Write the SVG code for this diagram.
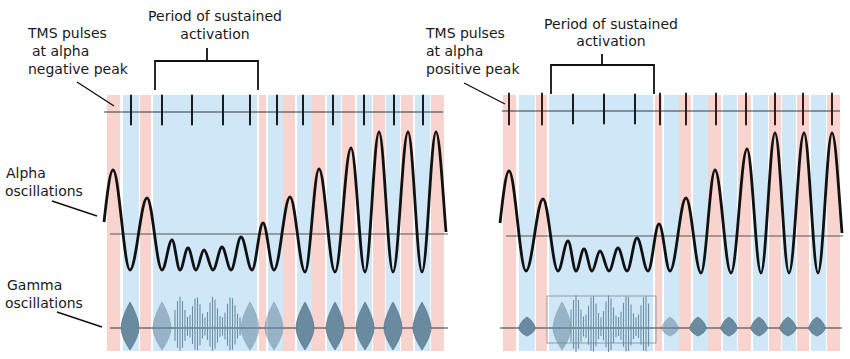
<svg xmlns="http://www.w3.org/2000/svg" xmlns:xlink="http://www.w3.org/1999/xlink" width="850" height="359" viewBox="0 0 850 359">
<style>
.lbl{font-family:"DejaVu Sans","Liberation Sans",sans-serif;font-size:14px;fill:#1a1a1a}
.pk{fill:#f9d4cf}
.bl{fill:#cfe7f7}
.axis{stroke:#2a3a44;stroke-width:1.1;fill:none}
.base{stroke:#555;stroke-width:1;fill:none}
.lead{stroke:#111;stroke-width:1.4;fill:none}
.br{stroke:#111;stroke-width:1.8;fill:none}
.wave{stroke:#111;stroke-width:2.8;fill:none;stroke-linejoin:round}
.glines{stroke:#6d8ea2;stroke-width:1.1;fill:none}
.burst{fill:#6a8aa0;stroke:#4d6b80;stroke-width:.6}
.light{opacity:.55}
.box{fill:none;stroke:#7a8a94;stroke-width:.8}
</style>
<defs>
<path id="tick" d="M0,-14.5V14.5" stroke="#111" stroke-width="1.9" stroke-linecap="round"/>
<path id="tickR" d="M0,-15.5V15.5" stroke="#2a1010" stroke-width="1.9" stroke-linecap="round"/>
<path id="sp" d="M-9,0 C-9,-8 -4,-19 0,-26 C4,-19 9,-8 9,0 C9,7 4,16 0,22 C-4,16 -9,7 -9,0Z"/>
<path id="spS" d="M-8.5,0 C-7.5,-3 -5,-8 0,-11 C5,-8 7.5,-3 8.5,0 C7.5,3 5,6 0,8 C-5,6 -7.5,3 -8.5,0Z"/>
<path id="alpha" d="M104,222 C107,195 110,170 113,170 C119.1,170 123.9,270 130,270 C136.1,270 140.9,198 147,198 C152.4,198 156.6,270 162,270 C165.6,270 168.4,240 172,240 C174.9,240 177.1,270 180,270 C182.9,270 185.1,248 188,248 C190.9,248 193.1,270 196,270 C198.9,270 201.1,250 204,250 C207.2,250 209.8,270 213,270 C216.2,270 218.8,247 222,247 C225.2,247 227.8,270 231,270 C234.6,270 237.4,237 241,237 C245,237 248,270 252,270 C256,270 259,223 263,223 C267,223 270,270 274,270 C279.8,270 284.2,197 290,197 C295.4,197 299.6,272 305,272 C310,272 314,169 319,169 C324.8,169 329.2,272 335,272 C340.8,272 345.2,148 351,148 C356,148 360,272 365,272 C370,272 374,132 379,132 C384,132 388,272 393,272 C398.4,272 402.6,132 408,132 C413,132 417,272 422,272 C427,272 431,132 436,132 C439.6,132 443,195 446,232"/>
</defs>

<g id="left-panel">
  <g id="left-stripes">
    <rect class="pk" x="107" y="95" width="13" height="256"/>
    <rect class="bl" x="123" y="95" width="16" height="256"/>
    <rect class="pk" x="140" y="95" width="11" height="256"/>
    <rect class="bl" x="153" y="95" width="104" height="256"/>
    <rect class="pk" x="259" y="95" width="7" height="256"/>
    <rect class="bl" x="268" y="95" width="15" height="256"/>
    <rect class="pk" x="283" y="95" width="12" height="256"/>
    <rect class="bl" x="297" y="95" width="15" height="256"/>
    <rect class="pk" x="312" y="95" width="13" height="256"/>
    <rect class="bl" x="327" y="95" width="14" height="256"/>
    <rect class="pk" x="342" y="95" width="13" height="256"/>
    <rect class="bl" x="357" y="95" width="15" height="256"/>
    <rect class="pk" x="373" y="95" width="12" height="256"/>
    <rect class="bl" x="386" y="95" width="14" height="256"/>
    <rect class="pk" x="401" y="95" width="12" height="256"/>
    <rect class="bl" x="415" y="95" width="15" height="256"/>
    <rect class="pk" x="431" y="95" width="13" height="256"/>
  </g>
  <g id="left-tms">
    <line class="axis" x1="104" y1="112" x2="443" y2="112"/>
    <use xlink:href="#tick" x="131" y="110"/>
    <use xlink:href="#tick" x="162" y="110"/>
    <use xlink:href="#tick" x="192" y="110"/>
    <use xlink:href="#tick" x="223" y="110"/>
    <use xlink:href="#tick" x="250" y="110"/>
    <use xlink:href="#tick" x="277" y="110"/>
    <use xlink:href="#tick" x="303" y="110"/>
    <use xlink:href="#tick" x="333" y="110"/>
    <use xlink:href="#tick" x="364" y="110"/>
    <use xlink:href="#tick" x="394" y="110"/>
    <use xlink:href="#tick" x="423" y="110"/>
  </g>
  <g id="left-alpha">
    <line class="base" x1="110" y1="234" x2="448" y2="234"/>
    <use xlink:href="#alpha" class="wave"/>
  </g>
  <g id="left-gamma">
    <line class="axis" x1="110" y1="328" x2="448" y2="328"/>
    <g class="burst">
      <use xlink:href="#sp" x="130" y="328"/>
      <use xlink:href="#sp" x="305" y="328"/>
      <use xlink:href="#sp" x="335" y="328"/>
      <use xlink:href="#sp" x="365" y="328"/>
      <use xlink:href="#sp" x="393" y="328"/>
      <use xlink:href="#sp" x="422" y="328"/>
    </g>
    <g class="burst light">
      <use xlink:href="#sp" x="162" y="328"/>
      <use xlink:href="#sp" x="250" y="328"/>
      <use xlink:href="#sp" x="274" y="328"/>
    </g>
    <path class="glines" d="M175,310.1V341.1M177.5,301V347.8M180,296.8V350.8M182.5,301V347.8M185,310.1V341.1M187.5,317V336.1M190,314.9V337.6M192.5,306.3V343.9M195,298.4V349.7M197.5,297.5V350.3M200,304.3V345.3M202.5,313.4V338.6M205,317.6V335.6M207.5,311.9V339.8M210,302.5V346.6M212.5,296.8V350.8M215,299.5V348.8M217.5,308.2V342.4M220,316V336.7M222.5,317.5V335.7M225,312.4V339.4M227.5,303.7V345.8M230,297.5V350.3M232.5,298.2V349.8M235,305.4V344.5M237.5,313.8V338.4M240,317.6V335.6"/>
  </g>
</g>

<g id="right-panel">
  <g id="right-stripes">
    <rect class="pk" x="503" y="95" width="13" height="256"/>
    <rect class="bl" x="519" y="95" width="16" height="256"/>
    <rect class="pk" x="536" y="95" width="11" height="256"/>
    <rect class="bl" x="549" y="95" width="104" height="256"/>
    <rect class="pk" x="655" y="95" width="7" height="256"/>
    <rect class="bl" x="664" y="95" width="15" height="256"/>
    <rect class="pk" x="679" y="95" width="12" height="256"/>
    <rect class="bl" x="693" y="95" width="15" height="256"/>
    <rect class="pk" x="708" y="95" width="13" height="256"/>
    <rect class="bl" x="723" y="95" width="14" height="256"/>
    <rect class="pk" x="738" y="95" width="13" height="256"/>
    <rect class="bl" x="753" y="95" width="15" height="256"/>
    <rect class="pk" x="769" y="95" width="12" height="256"/>
    <rect class="bl" x="782" y="95" width="14" height="256"/>
    <rect class="pk" x="797" y="95" width="12" height="256"/>
    <rect class="bl" x="811" y="95" width="15" height="256"/>
    <rect class="pk" x="827" y="95" width="13" height="256"/>
  </g>
  <g id="right-tms">
    <line class="axis" x1="502" y1="111" x2="840" y2="111"/>
    <use xlink:href="#tickR" x="509" y="109"/>
    <use xlink:href="#tickR" x="542" y="109"/>
    <use xlink:href="#tick" x="573" y="109"/>
    <use xlink:href="#tick" x="604" y="109"/>
    <use xlink:href="#tick" x="635" y="109"/>
    <use xlink:href="#tickR" x="660" y="109"/>
    <use xlink:href="#tickR" x="686" y="109"/>
    <use xlink:href="#tickR" x="716" y="109"/>
    <use xlink:href="#tickR" x="746" y="109"/>
    <use xlink:href="#tickR" x="775" y="109"/>
    <use xlink:href="#tickR" x="803" y="109"/>
    <use xlink:href="#tickR" x="832" y="109"/>
  </g>
  <g id="right-alpha">
    <line class="base" x1="506" y1="236" x2="843" y2="236"/>
    <use xlink:href="#alpha" class="wave" transform="translate(396,1)"/>
  </g>
  <g id="right-gamma">
    <line class="axis" x1="500" y1="328" x2="842" y2="328"/>
    <rect class="box" x="547" y="296" width="109" height="47"/>
    <g class="burst">
      <use xlink:href="#spS" x="527" y="328"/>
      <use xlink:href="#spS" x="698" y="328"/>
      <use xlink:href="#spS" x="729" y="328"/>
      <use xlink:href="#spS" x="759" y="328"/>
      <use xlink:href="#spS" x="788" y="328"/>
      <use xlink:href="#spS" x="817" y="328"/>
    </g>
    <g class="burst light">
      <use xlink:href="#spS" x="670" y="328"/>
      <use xlink:href="#sp" x="562" y="328"/>
    </g>
    <path class="glines" d="M571,309.4V341.8M573.5,299.9V348.8M576,295.6V352M578.5,299.9V348.8M581,309.4V341.8M583.5,316.5V336.5M586,314.4V338.1M588.5,305.5V344.7M591,297.2V350.8M593.5,296.3V351.5M596,303.4V346.2M598.5,312.9V339.2M601,317.2V336M603.5,311.3V340.4M606,301.5V347.6M608.5,295.6V352M611,298.4V349.9M613.5,307.5V343.2M616,315.6V337.2M618.5,317.1V336.1M621,311.8V340M623.5,302.8V346.7M626,296.3V351.5M628.5,297.1V350.9M631,304.5V345.4M633.5,313.3V338.9M636,317.2V336M638.5,314.4V338.1M641,305.5V344.7M643.5,297.2V350.8M646,296.3V351.5M648.5,303.4V346.2"/>
  </g>
</g>

<g id="label-tms-left">
  <text class="lbl" x="28" y="38">TMS pulses</text>
  <text class="lbl" x="32" y="56">at alpha</text>
  <text class="lbl" x="28" y="74">negative peak</text>
</g>
<g id="label-sustained-left">
  <text class="lbl" x="215" y="21" text-anchor="middle">Period of sustained</text>
  <text class="lbl" x="215" y="39" text-anchor="middle">activation</text>
</g>
<g id="label-alpha">
  <text class="lbl" x="6" y="178">Alpha</text>
  <text class="lbl" x="5" y="196">oscillations</text>
</g>
<g id="label-gamma">
  <text class="lbl" x="7" y="290">Gamma</text>
  <text class="lbl" x="5" y="308">oscillations</text>
</g>
<g id="label-tms-right">
  <text class="lbl" x="426" y="38">TMS pulses</text>
  <text class="lbl" x="426" y="56">at alpha</text>
  <text class="lbl" x="426" y="74">positive peak</text>
</g>
<g id="label-sustained-right">
  <text class="lbl" x="611" y="29" text-anchor="middle">Period of sustained</text>
  <text class="lbl" x="611" y="46" text-anchor="middle">activation</text>
</g>

<g id="connectors">
  <line class="lead" x1="77" y1="82" x2="114" y2="106"/>
  <line class="lead" x1="464" y1="83" x2="505" y2="104"/>
  <line class="lead" x1="52" y1="201" x2="97" y2="216"/>
  <line class="lead" x1="57" y1="312" x2="102" y2="327"/>
  <path class="br" d="M207,48V61M155,90V61H258V90"/>
  <path class="br" d="M602,54V65M551,94V65H654V94"/>
</g>
</svg>
